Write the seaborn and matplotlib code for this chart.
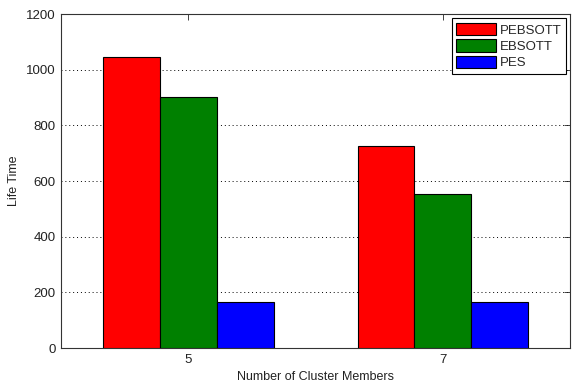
import matplotlib
matplotlib.use("Agg")
import matplotlib.pyplot as plt
import seaborn as sns
import pandas as pd

# Network lifetime per protocol for each cluster size
cluster_sizes = ["5", "7"]
protocols = ["PEBSOTT", "EBSOTT", "PES"]
pebsott = [1045, 726]
ebsott = [903, 553]
pes = [165, 165]
colors = ["#ff0000", "#008000", "#0000ff"]
y_ticks = [0, 200, 400, 600, 800, 1000, 1200]

rows = []
for name, vals in zip(protocols, [pebsott, ebsott, pes]):
    for size, v in zip(cluster_sizes, vals):
        rows.append({"members": size, "protocol": name, "life": v})
df = pd.DataFrame(rows)

sns.set_style("white")
plt.rcParams["font.family"] = ["Liberation Sans", "DejaVu Sans"]

fig = plt.figure(figsize=(5.73, 3.82), dpi=100)
ax = fig.add_axes([0.1065, 0.089, 0.8883, 0.874])

sns.barplot(data=df, x="members", y="life", hue="protocol",
            order=cluster_sizes, hue_order=protocols,
            palette=colors, width=0.67, edgecolor="black", linewidth=0.8,
            saturation=1, ax=ax, zorder=3)

ax.set_xlim(-0.5, 1.5)
ax.set_ylim(0, 1200)
ax.set_yticks(y_ticks)
ax.set_yticklabels([str(t) for t in y_ticks])
ax.yaxis.grid(True, linestyle=(0, (1, 3)), color="black", linewidth=0.7, zorder=0)
ax.xaxis.grid(False)
ax.set_axisbelow(True)

ax.set_xlabel("Number of Cluster Members", fontsize=9, color="#222222")
ax.set_ylabel("Life Time", fontsize=9, color="#222222")
ax.tick_params(axis="both", direction="in", length=4, width=0.6,
               top=True, right=True, labelsize=9.5, colors="#222222", pad=4)
for s in ax.spines.values():
    s.set_visible(True)
    s.set_color("#333333")
    s.set_linewidth(0.8)

leg = ax.legend(loc="upper right", fontsize=9.5, frameon=True, fancybox=False,
                edgecolor="black", framealpha=1, handlelength=3.0,
                handleheight=1.1, borderaxespad=0.3, labelspacing=0.2,
                borderpad=0.35, handletextpad=0.3)
leg.get_frame().set_linewidth(0.8)
leg.set_title(None)

fig.savefig("out.png", dpi=100)
